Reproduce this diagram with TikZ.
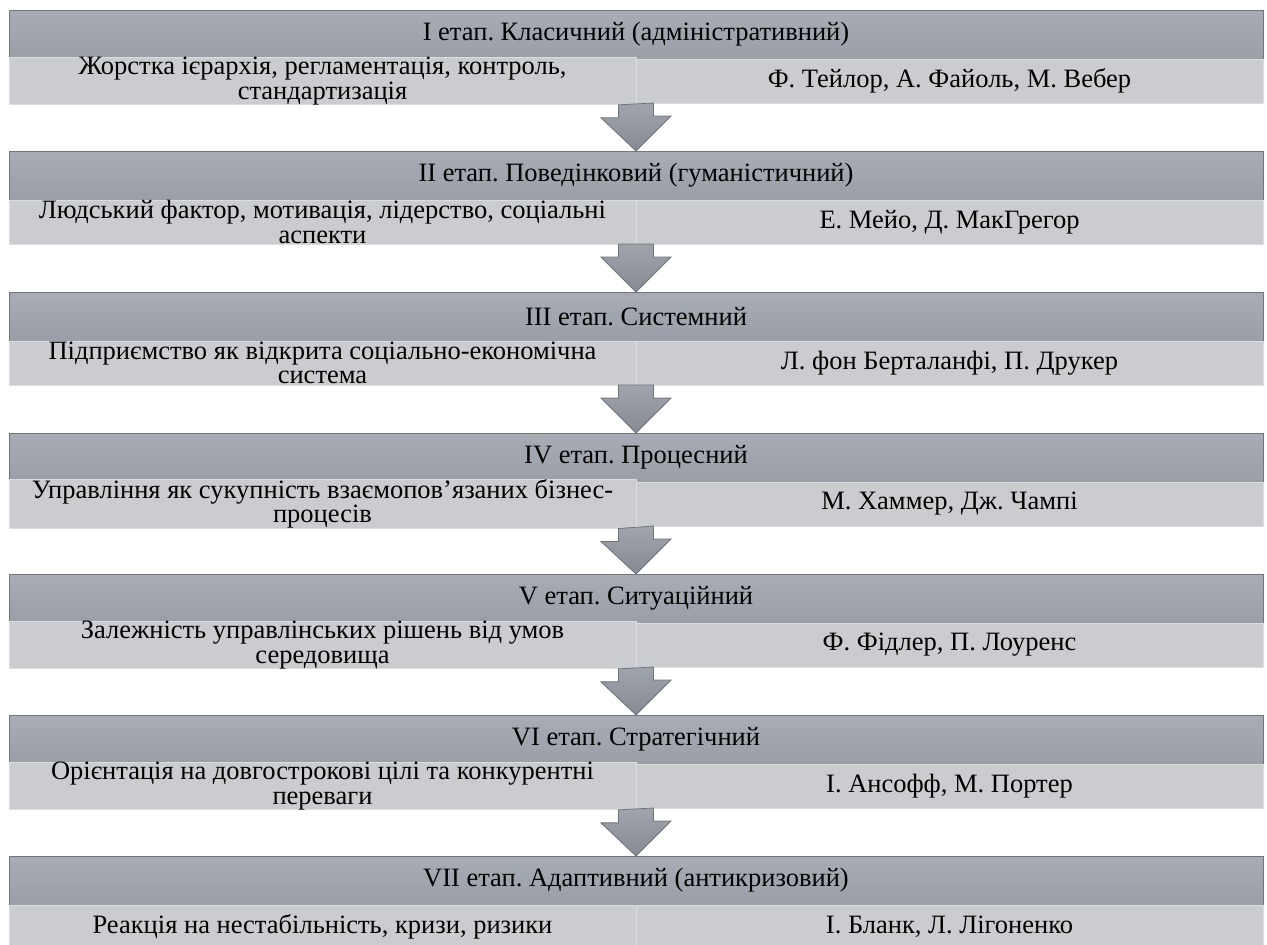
\documentclass[tikz,border=0pt]{standalone}
\usepackage{fontspec}
\setmainfont{Liberation Serif}
\frenchspacing
\definecolor{headtop}{HTML}{A8ACB5}
\definecolor{headbot}{HTML}{9A9EA7}
\definecolor{headline}{HTML}{72767C}
\definecolor{cellfill}{HTML}{CACCCF}
\definecolor{cellline}{HTML}{DCDDDF}
\definecolor{arrtop}{HTML}{A0A4AD}
\definecolor{arrbot}{HTML}{858A93}
\definecolor{arrline}{HTML}{6E737B}
\begin{document}
\begin{tikzpicture}[x=1pt,y=-1pt,font=\fontsize{26.5}{24.5}\selectfont,
    head/.style={rectangle,draw=headline,line width=0.8pt,top color=headtop,bottom color=headbot,
      minimum width=1254pt,minimum height=49pt,inner sep=0pt,outer sep=0pt},
    cell/.style={rectangle,draw=cellline,line width=0.8pt,fill=cellfill,align=center,
      minimum width=627pt,minimum height=44pt,inner sep=0pt,outer sep=0pt},
    flowarrow/.style={draw=arrline,line width=0.8pt,top color=arrtop,bottom color=arrbot}]
  \useasboundingbox (0,0) rectangle (1267,945);
  \foreach \t/\l/\r [count=\i] in {
      {I етап. Класичний (адміністративний)}/{Жорстка ієрархія, регламентація, контроль,\\стандартизація}/{Ф. Тейлор, А. Файоль, М. Вебер},
      {II етап. Поведінковий (гуманістичний)}/{Людський фактор, мотивація, лідерство, соціальні\\аспекти}/{Е. Мейо, Д. МакГрегор},
      {III етап. Системний}/{Підприємство як відкрита соціально-економічна\\система}/{Л. фон Берталанфі, П. Друкер},
      {IV етап. Процесний}/{Управління як сукупність взаємопов’язаних бізнес-\\процесів}/{М. Хаммер, Дж. Чампі},
      {V етап. Ситуаційний}/{Залежність управлінських рішень від умов\\середовища}/{Ф. Фідлер, П. Лоуренс},
      {VI етап. Стратегічний}/{Орієнтація на довгострокові цілі та конкурентні\\переваги}/{І. Ансофф, М. Портер},
      {VII етап. Адаптивний (антикризовий)}/{Реакція на нестабільність, кризи, ризики}/{І. Бланк, Л. Лігоненко}} {
    \node[head] (h\i) at (636,{34.5+141*(\i-1)}) {\t};
    \node[cell] (l\i) at (322.5,{81+141*(\i-1)}) {\l};
    \node[cell] (r\i) at (949.5,{81+141*(\i-1)}) {\r};
  }
  \foreach \i [count=\j from 2] in {1,...,6}
    \draw[flowarrow] (l\i.south -| h\j.north) ++(-17.5,0) -- ++(0,13) -- ++(-17.5,0) -- (h\j.north)
      -- ++(35,-35) -- ++(-17.5,0) -- ++(0,-13) -- cycle;
\end{tikzpicture}
\end{document}
